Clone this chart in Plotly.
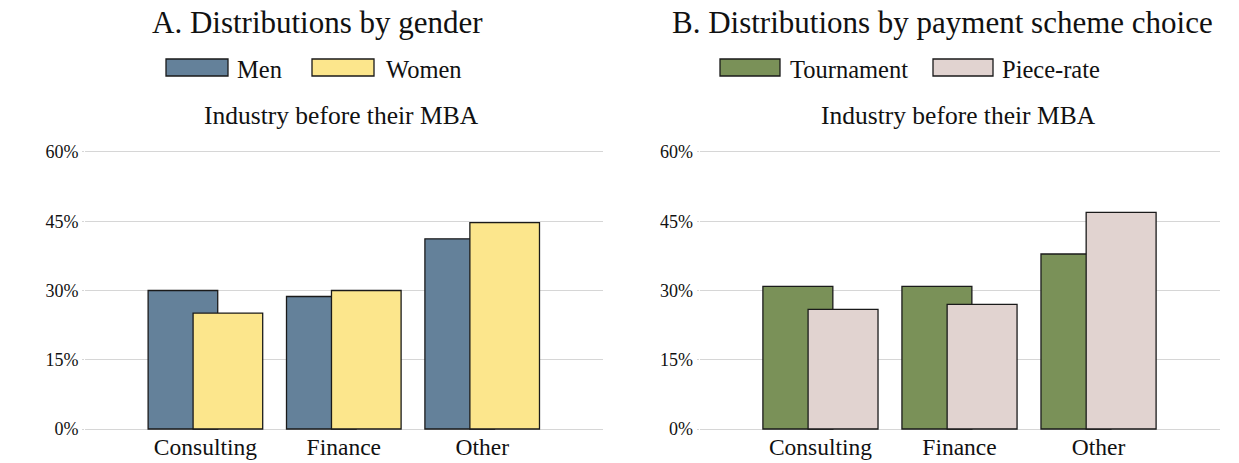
import plotly.graph_objects as go

W, H = 1239, 463

categories = ["Consulting", "Finance", "Other"]
men = [30.0, 28.7, 41.2]
women = [25.1, 30.0, 44.7]
tournament = [30.9, 30.9, 37.9]
piece_rate = [25.9, 27.0, 46.9]
y_ticks = [0, 15, 30, 45, 60]
y_tick_labels = ["0%", "15%", "30%", "45%", "60%"]

C_MEN = "#64819A"
C_WOMEN = "#FCE68C"
C_TOUR = "#7A9158"
C_PIECE = "#E1D3D0"
EDGE = "#1a1a1a"
FONT = "Liberation Serif, Times New Roman, serif"

xpos = list(range(len(categories)))


def px(x):
    return x / W


def py(y):
    return 1 - y / H


fig = go.Figure()

def add_bars(vals, color, offset, xa, ya, name):
    fig.add_trace(go.Bar(
        x=xpos, y=vals, width=[0.503] * len(vals), offset=offset,
        marker=dict(color=color, line=dict(color=EDGE, width=1.3)),
        name=name, showlegend=False, xaxis=xa, yaxis=ya,
        hovertemplate="%{y:.1f}%<extra>" + name + "</extra>"))

add_bars(men, C_MEN, -0.414, "x", "y", "Men")
add_bars(women, C_WOMEN, -0.089, "x", "y", "Women")
add_bars(tournament, C_TOUR, -0.414, "x2", "y2", "Tournament")
add_bars(piece_rate, C_PIECE, -0.089, "x2", "y2", "Piece-rate")

yd = [py(430.4), py(150.6)]
xaxis_common = dict(range=[-0.87, 2.87], tickmode="array", tickvals=xpos,
                    ticktext=categories, showgrid=False, zeroline=False,
                    showline=False, ticks="", fixedrange=True, automargin=False,
                    tickfont=dict(family=FONT, size=23.5, color="#111"))
yaxis_common = dict(range=[-0.3, 60.3], tickmode="array", tickvals=y_ticks,
                    ticktext=y_tick_labels, showgrid=True, gridcolor="#d6d6d6",
                    gridwidth=1.4, zeroline=False, showline=False,
                    ticks="outside", ticklen=2, tickcolor="#d6d6d6",
                    fixedrange=True, automargin=False,
                    tickfont=dict(family=FONT, size=18, color="#111"))

fig.update_layout(
    template="none",
    width=W, height=H,
    margin=dict(l=0, r=0, t=0, b=0, pad=0),
    paper_bgcolor="white", plot_bgcolor="white",
    barmode="overlay",
    showlegend=False,
    xaxis=dict(domain=[px(85), px(602.6)], anchor="y", **xaxis_common),
    yaxis=dict(domain=yd, anchor="x", **yaxis_common),
    xaxis2=dict(domain=[px(699.5), px(1219.5)], anchor="y2", **xaxis_common),
    yaxis2=dict(domain=yd, anchor="x2", **yaxis_common),
    font=dict(family=FONT, color="#111"),
)

annotations = []
shapes = []

def text(x, y, s, size, xanchor="center"):
    annotations.append(dict(x=px(x), y=py(y), xref="paper", yref="paper",
                            text=s, showarrow=False, xanchor=xanchor,
                            yanchor="middle",
                            font=dict(family=FONT, size=size, color="#111")))

def swatch(x0, x1, color):
    shapes.append(dict(type="rect", xref="paper", yref="paper",
                       x0=px(x0), x1=px(x1), y0=py(76), y1=py(59),
                       fillcolor=color, line=dict(color=EDGE, width=1.3)))

# Panel A
text(317, 22, "A. Distributions by gender", 31)
swatch(166, 228, C_MEN)
text(235, 69, "Men", 24.5, "left")
swatch(312, 374, C_WOMEN)
text(384, 69, "Women", 24.5, "left")
text(341, 115, "Industry before their MBA", 25.5)

# Panel B
text(942, 22, "B. Distributions by payment scheme choice", 31)
swatch(720, 780, C_TOUR)
text(788, 69, "Tournament", 24.5, "left")
swatch(933, 993, C_PIECE)
text(1000, 69, "Piece-rate", 24.5, "left")
text(958, 115, "Industry before their MBA", 25.5)

fig.update_layout(annotations=annotations, shapes=shapes)

fig.write_html(
    "out.html",
    config={"displayModeBar": False},
    post_script="document.body.style.margin='0';document.body.style.overflow='hidden';",
)
